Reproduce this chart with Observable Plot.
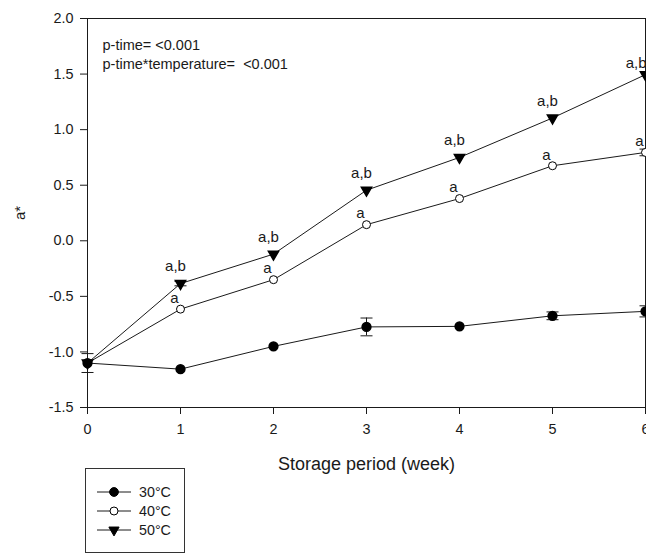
<!DOCTYPE html>
<html>
<head>
<meta charset="utf-8">
<script src="https://cdn.jsdelivr.net/npm/d3@7"></script>
<script src="https://cdn.jsdelivr.net/npm/@observablehq/plot@0.6"></script>
<style>
  body { margin: 0; background: #fff; }
  #wrap { position: relative; width: 646px; height: 554px; font-family: Arial, "Liberation Sans", sans-serif; }
  #wrap svg text { font-family: Arial, "Liberation Sans", sans-serif; }
  #legend { position: absolute; left: 85px; top: 468px; width: 100px; height: 85px; border: 1px solid #333; box-sizing: border-box; background: #fff; }
</style>
</head>
<body>
<div id="wrap"></div>
<script>
// ---- data ----
const weeks = [0, 1, 2, 3, 4, 5, 6];
const seriesNames = ["30\u00b0C", "40\u00b0C", "50\u00b0C"];
const a30 = [-1.10, -1.155, -0.95, -0.775, -0.77, -0.675, -0.635];
const a40 = [-1.10, -0.615, -0.35, 0.145, 0.38, 0.675, 0.795];
const a50 = [-1.10, -0.385, -0.12, 0.455, 0.75, 1.105, 1.495];
const err30 = [0.085, 0, 0, 0.08, 0, 0.035, 0.05];
const err40 = [0, 0, 0, 0, 0, 0, 0.03];
const err50 = [0, 0.02, 0, 0, 0, 0, 0];
const labels40 = ["", "a", "a", "a", "a", "a", "a"];
const labels50 = ["", "a,b", "a,b", "a,b", "a,b", "a,b", "a,b"];
const yTicks = [-1.5, -1.0, -0.5, 0.0, 0.5, 1.0, 1.5, 2.0];
const annotation = ["p-time= <0.001", "p-time*temperature=\u00a0\u00a0<0.001"];

// ---- build table ----
const vals = [a30, a40, a50];
const errs = [err30, err40, err50];
const labs = [[], labels40, labels50];
const rows = [];
seriesNames.forEach((s, i) => weeks.forEach((w, j) => rows.push({
  series: s, week: w, value: vals[i][j], err: errs[i][j], label: labs[i][j] || "",
  last: j === weeks.length - 1
})));
const bySeries = s => rows.filter(d => d.series === s);
const errRows = rows.filter(d => d.err > 0);

const capSymbol = {
  draw(ctx, size) {
    const r = Math.sqrt(size / Math.PI);
    ctx.moveTo(-r, 0); ctx.lineTo(r, 0);
  }
};

const ink = "#1a1a1a";
const R30 = 4.4, R40 = 4.0, R50 = 3.8;
const s50 = bySeries(seriesNames[2]);

const chart = Plot.plot({
  width: 646,
  height: 480,
  marginTop: 18,
  marginLeft: 87,
  marginRight: 1,
  marginBottom: 73,
  style: { fontSize: "14px", color: ink, background: "transparent" },
  x: { domain: [0, 6] },
  y: { domain: [-1.5, 2.0] },
  marks: [
    Plot.frame({ stroke: ink, strokeWidth: 1 }),
    Plot.axisX({ ticks: weeks, tickSize: 7, tickPadding: 9, tickFormat: d => String(d), fontSize: 14.4,
      label: "Storage period (week)", labelAnchor: "center", labelOffset: 62, labelArrow: "none" }),
    Plot.axisY({ ticks: yTicks, tickSize: 7, tickPadding: 7, tickFormat: d => d.toFixed(1), fontSize: 14.4,
      label: "a*", labelAnchor: "center", labelOffset: 73, labelArrow: "none" }),
    Plot.text([annotation.join("\n")], { frameAnchor: "top-left", textAnchor: "start", lineAnchor: "top",
      dx: 15, dy: 18, lineHeight: 1.33, fontSize: 14.5, fill: ink }),
    ...seriesNames.map(s => Plot.line(bySeries(s), { x: "week", y: "value", stroke: ink, strokeWidth: 1 })),
    Plot.ruleX(errRows, { x: "week", y1: d => d.value - d.err, y2: d => d.value + d.err, stroke: ink, strokeWidth: 1 }),
    Plot.dot(errRows, { x: "week", y: d => d.value - d.err, symbol: capSymbol, r: 6, stroke: ink, fill: "none", strokeWidth: 1 }),
    Plot.dot(errRows, { x: "week", y: d => d.value + d.err, symbol: capSymbol, r: 6, stroke: ink, fill: "none", strokeWidth: 1 }),
    Plot.dot(s50, { x: "week", y: "value", symbol: "triangle", rotate: 180, r: R50, fill: "black", stroke: "black" }),
    Plot.dot(bySeries(seriesNames[1]), { x: "week", y: "value", symbol: "circle", r: R40, fill: "white", stroke: "black", strokeWidth: 1 }),
    Plot.dot(bySeries(seriesNames[0]), { x: "week", y: "value", symbol: "circle", r: R30, fill: "black", stroke: "black" }),
    Plot.text(s50.filter(d => !d.last), { x: "week", y: "value", text: "label", dx: -5, dy: -17, fontSize: 15, fill: ink }),
    Plot.text(s50.filter(d => d.last), { x: "week", y: "value", text: "label", textAnchor: "end", dx: 1, dy: -11, fontSize: 15, fill: ink }),
    Plot.text(bySeries(seriesNames[1]), { x: "week", y: "value", text: "label", dx: -6, dy: -11, fontSize: 15, fill: ink })
  ]
});
document.getElementById("wrap").appendChild(chart);

// enforce axis font sizes
chart.querySelectorAll("g[aria-label]").forEach(g => {
  const lab = g.getAttribute("aria-label");
  let fs = null;
  if (lab === "x-axis label") fs = "18px";
  else if (lab === "y-axis label") fs = "15px";
  else if (/axis tick label/.test(lab)) fs = "14.4px";
  if (fs) {
    g.setAttribute("font-size", fs);
    g.style.fontSize = fs;
    g.querySelectorAll("text").forEach(t => { t.removeAttribute("font-size"); t.style.fontSize = fs; });
  }
});

// ---- legend ----
const legend = document.createElement("div");
legend.id = "legend";
document.getElementById("wrap").appendChild(legend);
const lsvg = d3.select(legend).append("svg").attr("width", 98).attr("height", 83)
  .style("position", "absolute").style("left", "0px").style("top", "0px");
const legendSymbols = [
  { sym: d3.symbolCircle, size: Math.PI * R30 * R30, fill: "black", rot: 0 },
  { sym: d3.symbolCircle, size: Math.PI * R40 * R40, fill: "white", rot: 0 },
  { sym: d3.symbolTriangle, size: Math.PI * R50 * R50, fill: "black", rot: 180 }
];
seriesNames.forEach((s, i) => {
  const g = lsvg.append("g").attr("transform", `translate(0, ${23 + i * 19})`);
  g.append("line").attr("x1", 11).attr("x2", 45).attr("y1", 0).attr("y2", 0).attr("stroke", ink);
  g.append("path").attr("d", d3.symbol(legendSymbols[i].sym, legendSymbols[i].size)())
    .attr("transform", `translate(28,0) rotate(${legendSymbols[i].rot})`)
    .attr("fill", legendSymbols[i].fill).attr("stroke", "black");
  g.append("text").attr("x", 53).attr("y", 0).attr("dy", "0.35em").attr("font-size", 14.3)
    .attr("fill", ink).style("font-family", "Arial, 'Liberation Sans', sans-serif").text(s);
});
</script>
</body>
</html>
